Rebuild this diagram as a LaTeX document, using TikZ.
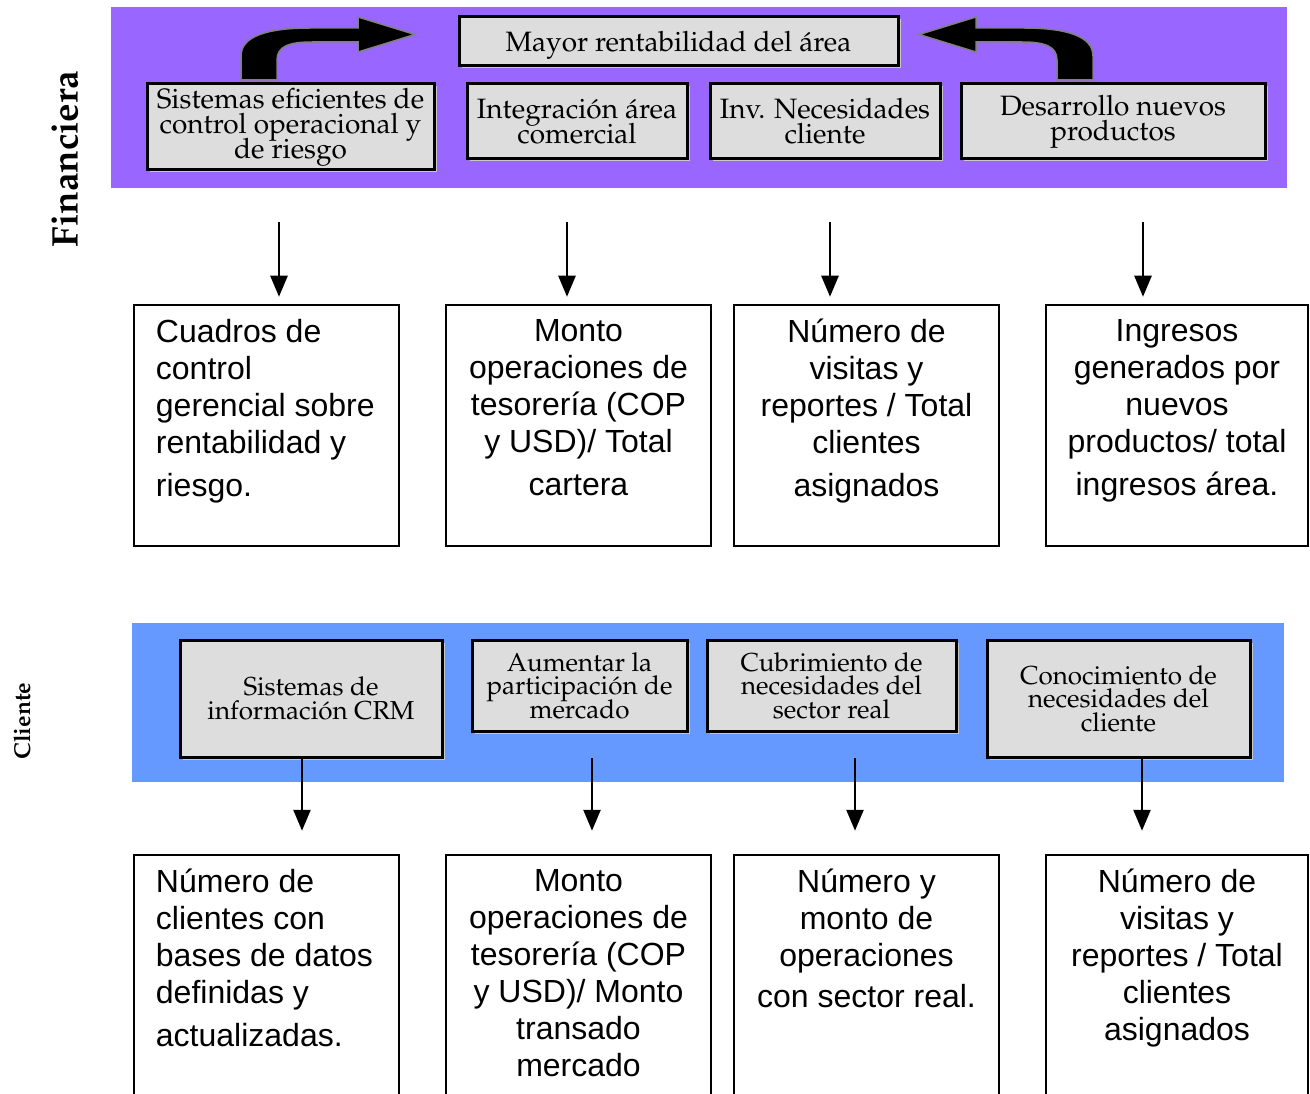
\documentclass[tikz,border=0pt]{standalone}
\usepackage[T1]{fontenc}
\usepackage{fontspec}
\setsansfont{Liberation Sans}
\usetikzlibrary{shapes, arrows.meta, positioning, shadows}

\definecolor{violeta}{HTML}{9966FF}
\definecolor{azul}{HTML}{6699FF}
\definecolor{gris}{HTML}{DDDDDD}
\newcommand{\pala}{\fontencoding{T1}\fontfamily{ppl}\selectfont\lineskiplimit=-50pt}

\begin{document}
\begin{tikzpicture}[x=1pt, y=-1pt,
meta/.style={rectangle, draw=black, line width=3pt, fill=gris, align=center, inner sep=0pt,
font=\pala\fontsize{28}{25}\selectfont,
drop shadow={shadow xshift=2.5pt, shadow yshift=-2.5pt, fill=black!22, opacity=1}},
meta-cli/.style={meta, font=\pala\fontsize{26}{23.5}\selectfont},
medida/.style={rectangle, draw=black, line width=2.5pt, minimum width=265, minimum height=241, inner sep=0pt},
texto/.style={font=\sffamily\fontsize{32}{37}\selectfont, align=center, inner sep=0pt, anchor=north},
texto-izq/.style={texto, align=left, anchor=north west},
baja/.style={draw, line width=2.5pt, -{Triangle[length=21pt, width=17pt]}},
curva/.style={fill=black, draw=gray, line width=1.5pt}
]

\clip (0,0) rectangle (1310,1094);

\fill[violeta] (111,7) rectangle (1287,188);
\fill[azul] (132,623) rectangle (1284,782);

\node [rotate=90, font=\pala\bfseries\fontsize{37}{40}\selectfont] (financiera) at (65,159) {Financiera};
\node [rotate=90, font=\pala\bfseries\fontsize{23}{26}\selectfont] (cliente) at (22,721) {Cliente};

\filldraw[curva] (241,80) -- (241,56)
  .. controls (241,36) and (268,28) .. (310,28) -- (358,28) -- (358,17) -- (415,34.5)
  -- (358,52) -- (358,42) -- (312,42) .. controls (290,42) and (277,46) .. (277,60)
  -- (277,80) -- cycle;
\filldraw[curva] (1093,80) -- (1093,56)
  .. controls (1093,36) and (1066,28) .. (1024,28) -- (976,28) -- (976,17) -- (919,34.5)
  -- (976,52) -- (976,42) -- (1022,42) .. controls (1044,42) and (1057,46) .. (1057,60)
  -- (1057,80) -- cycle;

\node [meta, minimum width=439, minimum height=49, text depth=0pt] (mayor) at (678.5,41.5) {Mayor rentabilidad del área};
\node [meta, minimum width=287, minimum height=86] (sistemas) at (290.5,127) {Sistemas eficientes de\\control operacional y\\de riesgo};
\node [meta, minimum width=220, minimum height=75] (integracion) at (577,121.5) {Integración área\\comercial};
\node [meta, minimum width=230, minimum height=75] (necesidades) at (825,121.5) {Inv. Necesidades\\cliente};
\node [meta, minimum width=304, minimum height=75] (desarrollo) at (1113,121.5) {Desarrollo nuevos\\productos};

\node [meta-cli, minimum width=262, minimum height=117] (crm) at (311,698.5) {Sistemas de\\información CRM};
\node [meta-cli, minimum width=215, minimum height=91] (mercado) at (579.5,685.5) {Aumentar la\\participación de\\mercado};
\node [meta-cli, minimum width=249, minimum height=91] (sector) at (831.5,685.5) {Cubrimiento de\\necesidades del\\sector real};
\node [meta-cli, minimum width=263, minimum height=117] (conocimiento) at (1118.5,698.5) {Conocimiento de\\necesidades del\\cliente};

\node [medida] (cuadros) at (266.5,425.5) {};
\node [medida] (tesoreria) at (578.5,425.5) {};
\node [medida] (visitas) at (866.5,425.5) {};
\node [medida, minimum width=262] (ingresos) at (1177,425.5) {};

\node [medida] (bases) at (266.5,975.5) {};
\node [medida] (transado) at (578.5,975.5) {};
\node [medida] (real) at (866.5,975.5) {};
\node [medida, minimum width=262] (visitas-cli) at (1177,975.5) {};

\node [texto-izq] (cuadros-txt) at ([shift={(23,15)}]cuadros.north west) {Cuadros de\\control\\gerencial sobre\\rentabilidad y\\[6pt]riesgo.};
\node [texto] (tesoreria-txt) at ([shift={(0,16)}]tesoreria.north) {Monto\\operaciones de\\tesorería (COP\\y USD)/ Total\\[6pt]cartera};
\node [texto] (visitas-txt) at ([shift={(0,15)}]visitas.north) {Número de\\visitas y\\reportes / Total\\clientes\\[6pt]asignados};
\node [texto] (ingresos-txt) at ([shift={(0,16)}]ingresos.north) {Ingresos\\generados por\\nuevos\\productos/ total\\[6pt]ingresos área.};

\node [texto-izq] (bases-txt) at ([shift={(23,15)}]bases.north west) {Número de\\clientes con\\bases de datos\\definidas y\\[6pt]actualizadas.};
\node [texto] (transado-txt) at ([shift={(0,16)}]transado.north) {Monto\\operaciones de\\tesorería (COP\\y USD)/ Monto\\transado\\mercado};
\node [texto] (real-txt) at ([shift={(0,15)}]real.north) {Número y\\monto de\\operaciones\\[4pt]con sector real.};
\node [texto] (visitas-cli-txt) at ([shift={(0,15)}]visitas-cli.north) {Número de\\visitas y\\reportes / Total\\clientes\\asignados};

\coordinate (f1) at (279,222);
\coordinate (f2) at (567,222);
\coordinate (f3) at (830,222);
\coordinate (f4) at (1143,222);
\draw [baja, shorten >=7pt] (f1) -- (f1 |- cuadros.north);
\draw [baja, shorten >=7pt] (f2) -- (f2 |- tesoreria.north);
\draw [baja, shorten >=7pt] (f3) -- (f3 |- visitas.north);
\draw [baja, shorten >=7pt] (f4) -- (f4 |- ingresos.north);

\coordinate (c1) at (302,758);
\coordinate (c2) at (592,758);
\coordinate (c3) at (855,758);
\coordinate (c4) at (1142,758);
\draw [baja, shorten >=23pt] (c1) -- (c1 |- bases.north);
\draw [baja, shorten >=23pt] (c2) -- (c2 |- transado.north);
\draw [baja, shorten >=23pt] (c3) -- (c3 |- real.north);
\draw [baja, shorten >=23pt] (c4) -- (c4 |- visitas-cli.north);

\end{tikzpicture}
\end{document}
